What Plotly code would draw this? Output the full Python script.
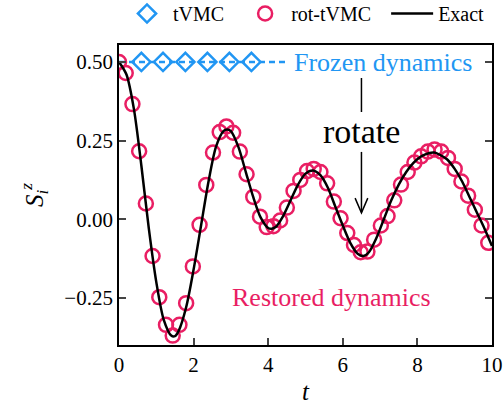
import plotly.graph_objects as go

# ---------------- data ----------------
exact_t = [0.0, 0.2, 0.4, 0.6, 0.8, 1.0, 1.2, 1.4, 1.5, 1.6, 1.8, 2.0, 2.2, 2.4, 2.6, 2.8, 2.9, 3.0,
           3.2, 3.4, 3.6, 3.8, 4.0, 4.1, 4.2, 4.4, 4.6, 4.8, 5.0, 5.2, 5.4, 5.6, 5.8, 6.0, 6.2, 6.4,
           6.55, 6.7, 6.9, 7.1, 7.3, 7.5, 7.7, 7.9, 8.1, 8.3, 8.45, 8.6, 8.8, 9.0, 9.2, 9.4, 9.6,
           9.8, 10.0]
exact_s = [0.50, 0.46, 0.35, 0.17, -0.03, -0.20, -0.32, -0.37, -0.372, -0.355, -0.28, -0.16,
           -0.02, 0.12, 0.23, 0.28, 0.285, 0.28, 0.23, 0.15, 0.07, 0.005, -0.028, -0.03, -0.025,
           0.01, 0.06, 0.11, 0.145, 0.155, 0.14, 0.10, 0.04, -0.02, -0.075, -0.11, -0.117, -0.105,
           -0.06, 0.0, 0.06, 0.11, 0.15, 0.18, 0.20, 0.21, 0.212, 0.205, 0.19, 0.16, 0.12, 0.07,
           0.02, -0.03, -0.085]

rot_t = [0.00, 0.18, 0.36, 0.54, 0.72, 0.90, 1.08, 1.26, 1.44, 1.62, 1.80, 1.98, 2.16, 2.34,
         2.52, 2.70, 2.88, 3.06, 3.24, 3.42, 3.60, 3.78, 3.96, 4.14, 4.32, 4.50, 4.68, 4.86,
         5.04, 5.22, 5.40, 5.58, 5.76, 5.94, 6.12, 6.30, 6.48, 6.66, 6.84, 7.02, 7.20, 7.38,
         7.56, 7.74, 7.92, 8.10, 8.28, 8.46, 8.64, 8.82, 9.00, 9.18, 9.36, 9.54, 9.72, 9.90]
rot_s = [0.500, 0.465, 0.366, 0.216, 0.050, -0.117, -0.248, -0.336, -0.370, -0.336, -0.267,
         -0.150, -0.018, 0.109, 0.212, 0.277, 0.295, 0.275, 0.215, 0.143, 0.071, 0.008, -0.025,
         -0.022, -0.004, 0.037, 0.090, 0.125, 0.153, 0.160, 0.150, 0.114, 0.056, 0.003, -0.044,
         -0.082, -0.105, -0.103, -0.065, -0.020, 0.010, 0.060, 0.110, 0.150, 0.180, 0.200,
         0.215, 0.222, 0.215, 0.195, 0.160, 0.120, 0.075, 0.030, -0.020, -0.075]

tvmc_t = [0.0, 0.60, 1.18, 1.78, 2.37, 2.96, 3.55, 4.45]
tvmc_s = [0.5, 0.5, 0.5, 0.5, 0.5, 0.5, 0.5, 0.5]
tvmc_mark_t = tvmc_t[1:7]
tvmc_mark_s = tvmc_s[1:7]

y_ticks = [-0.25, 0.0, 0.25, 0.5]
x_ticks = [0, 2, 4, 6, 8, 10]

BLUE = "#2196f3"
PINK = "#e91e63"
SERIF = "Liberation Serif"
GAP = "&nbsp;&nbsp;"

fig = go.Figure()

fig.add_trace(go.Scatter(x=tvmc_t, y=tvmc_s, mode="lines",
                         line=dict(color=BLUE, width=2.5, dash="6px,4px"),
                         showlegend=False, hoverinfo="skip"))
fig.add_trace(go.Scatter(x=tvmc_mark_t, y=tvmc_mark_s, mode="markers", name="tVMC" + GAP,
                         marker=dict(symbol="diamond-open", size=14, color=BLUE,
                                     line=dict(width=2.5, color=BLUE))))
fig.add_trace(go.Scatter(x=rot_t, y=rot_s, mode="markers", name="rot-tVMC" + GAP,
                         marker=dict(symbol="circle-open", size=14, color=PINK,
                                     line=dict(width=2.5, color=PINK))))
fig.add_trace(go.Scatter(x=exact_t, y=exact_s, mode="lines", name="Exact",
                         line=dict(color="black", width=2.5, shape="spline", smoothing=0.8)))

# arrow "rotate"
fig.add_shape(type="line", x0=6.5, x1=6.5, y0=0.449, y1=0.341, xref="x", yref="y",
              line=dict(color="black", width=1.5))
fig.add_shape(type="line", x0=6.5, x1=6.5, y0=0.214, y1=0.022, xref="x", yref="y",
              line=dict(color="black", width=1.5))
fig.add_shape(type="path", path="M 6.33 0.067 L 6.5 0.02 L 6.67 0.067", xref="x", yref="y",
              line=dict(color="black", width=1.5))

fig.add_annotation(x=6.5, y=0.28, text="rotate", showarrow=False, xref="x", yref="y",
                   font=dict(family=SERIF, size=34, color="black"), yanchor="middle")
fig.add_annotation(x=7.08, y=0.497, text="Frozen dynamics", showarrow=False, xref="x", yref="y",
                   font=dict(family=SERIF, size=26, color=BLUE), yanchor="middle")
fig.add_annotation(x=5.71, y=-0.25, text="Restored dynamics", showarrow=False, xref="x", yref="y",
                   font=dict(family=SERIF, size=26, color=PINK), yanchor="middle")

fig.update_layout(
    width=504, height=405,
    margin=dict(l=119, r=12, t=45, b=60, autoexpand=False),
    paper_bgcolor="white", plot_bgcolor="white",
    font=dict(family=SERIF, size=20, color="black"),
    showlegend=True,
    legend=dict(orientation="h", x=0.5, xanchor="center", y=1.105, yanchor="middle",
                itemwidth=42,
                font=dict(family=SERIF, size=20), bgcolor="rgba(0,0,0,0)"),
    xaxis=dict(range=[0, 10], tickvals=x_ticks, ticks="inside", ticklen=7, tickwidth=1.5,
               showline=True, linecolor="black", linewidth=1.8, mirror=True, automargin=False,
               showgrid=False, zeroline=False, tickfont=dict(family=SERIF, size=21),
               title=dict(text="<i>t</i>", font=dict(family=SERIF, size=25), standoff=8)),
    yaxis=dict(range=[-0.40, 0.554], tickvals=y_ticks, tickformat=".2f", ticks="inside",
               ticklen=7, tickwidth=1.5, showline=True, linecolor="black", linewidth=1.8,
               mirror="ticks", showgrid=False, zeroline=False, automargin=False,
               tickfont=dict(family=SERIF, size=21),
               title=dict(text="<i>S</i><sub><i>i</i></sub><sup><i>z</i></sup>",
                          font=dict(family=SERIF, size=25), standoff=14)),
)

fig.write_html("out.html")
